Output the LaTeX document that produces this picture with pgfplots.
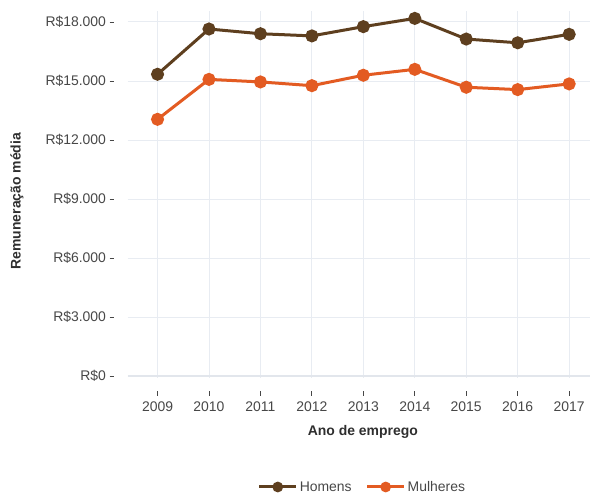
\documentclass[border=0pt]{standalone}
\usepackage{pgfplots}
\pgfplotsset{compat=1.18}
\usepackage{fontspec}
\setmainfont{Liberation Sans}

\definecolor{homens}{HTML}{5E3F1F}
\definecolor{mulheres}{HTML}{E35B22}
\definecolor{gridc}{HTML}{E8ECF2}
\definecolor{zeroc}{HTML}{E2E6EC}
\definecolor{tickc}{HTML}{474747}
\definecolor{titlec}{HTML}{2E2E2E}

\begin{document}
\begin{tikzpicture}
\path[use as bounding box] (0,0) rectangle (590bp,494bp);
\begin{axis}[
  at={(127.7bp,116bp)}, anchor=south west,
  scale only axis,
  width=471.3bp, height=367bp,
  xmin=2008.42, xmax=2017.58,
  ymin=-100, ymax=18556,
  xtick={2009,...,2017},
  xticklabels={2009,2010,2011,2012,2013,2014,2015,2016,2017},
  ytick={0,3000,6000,9000,12000,15000,18000},
  yticklabels={R\$0,R\$3.000,R\$6.000,R\$9.000,R\$12.000,R\$15.000,R\$18.000},
  axis x line*=bottom, axis y line*=left,
  axis line style={draw=none},
  axis x line shift=13bp, axis y line shift=13.7bp,
  tick align=outside,
  major tick length=4.5bp,
  tick style={tickc, line width=0.8bp},
  grid=major,
  major grid style={gridc, line width=0.9bp},
  tick label style={font=\fontsize{14}{16}\selectfont, text=tickc},
  xticklabel style={yshift=-3bp},
  xlabel={Ano de emprego},
  ylabel={Remuneração média},
  every axis x label/.style={at={(axis description cs:0.499,-0.147)}, anchor=center,
    font=\bfseries\fontsize{14}{16}\selectfont, text=titlec},
  every axis y label/.style={at={(axis description cs:-0.2349,0.482)}, anchor=center, rotate=90,
    font=\bfseries\fontsize{14}{16}\selectfont, text=titlec},
  legend columns=2,
  legend style={at={(axis description cs:0.498,-0.297)}, anchor=center, draw=none, fill=none,
    font=\fontsize{14}{16}\selectfont, text=tickc,
    /tikz/every even column/.append style={column sep=12bp}},
  legend image code/.code={%
    \draw[line width=3bp] (0bp,0bp) -- (37bp,0bp);
    \fill (18.5bp,0bp) circle (3.8bp);
  },
  clip=false,
]
% thicker zero line
\draw[zeroc, line width=2bp] (axis cs:2008.42,0) -- (axis cs:2017.58,0);

\addplot[homens, line width=3bp, mark=*, mark size=5bp, mark options={draw=none}] coordinates {
  (2009,15340) (2010,17640) (2011,17400) (2012,17290) (2013,17760)
  (2014,18180) (2015,17130) (2016,16940) (2017,17370)
};
\addlegendentry{Homens}
\addplot[mulheres, line width=3bp, mark=*, mark size=5bp, mark options={draw=none}] coordinates {
  (2009,13050) (2010,15080) (2011,14950) (2012,14760) (2013,15290)
  (2014,15590) (2015,14680) (2016,14560) (2017,14850)
};
\addlegendentry{Mulheres}
\end{axis}
\end{tikzpicture}
\end{document}
